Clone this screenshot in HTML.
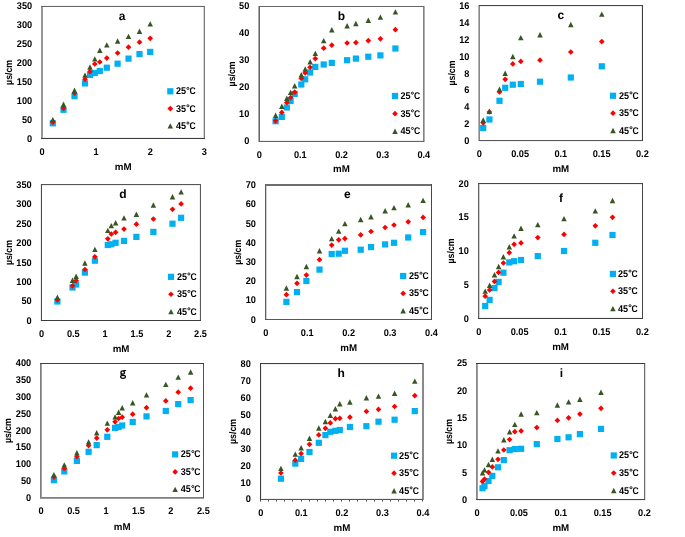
<!DOCTYPE html>
<html><head><meta charset="utf-8"><style>
html,body{margin:0;padding:0;background:#fff;}
svg{display:block;}
text{font-family:"Liberation Sans", sans-serif;font-weight:bold;font-size:9.8px;fill:#000000;text-rendering:geometricPrecision;}
</style></head><body>
<svg width="685" height="537" viewBox="0 0 685 537" style="will-change:transform">
<rect width="685" height="537" fill="#fff"/>
<g id="chart-a"><g shape-rendering="crispEdges"><rect x="41" y="5" width="164" height="1" fill="#f5f5f5"/><rect x="41" y="137" width="164" height="1" fill="#f0f0f0"/><rect x="203" y="6" width="1" height="133" fill="#d5d5d5"/><rect x="41" y="6" width="1" height="133" fill="#959595"/><rect x="42" y="6" width="1" height="133" fill="#959595"/><rect x="204" y="6" width="1" height="133" fill="#7a7a7a"/><rect x="41" y="6" width="164" height="1" fill="#666666"/><rect x="41" y="138" width="164" height="1" fill="#3d3d3d"/></g><text x="32.2" y="141.75" text-anchor="end" textLength="5.12" lengthAdjust="spacingAndGlyphs">0</text><text x="32.2" y="122.8" text-anchor="end" textLength="10.24" lengthAdjust="spacingAndGlyphs">50</text><text x="32.2" y="103.85" text-anchor="end" textLength="15.36" lengthAdjust="spacingAndGlyphs">100</text><text x="32.2" y="84.9" text-anchor="end" textLength="15.36" lengthAdjust="spacingAndGlyphs">150</text><text x="32.2" y="65.95" text-anchor="end" textLength="15.36" lengthAdjust="spacingAndGlyphs">200</text><text x="32.2" y="47" text-anchor="end" textLength="15.36" lengthAdjust="spacingAndGlyphs">250</text><text x="32.2" y="28.05" text-anchor="end" textLength="15.36" lengthAdjust="spacingAndGlyphs">300</text><text x="32.2" y="9.1" text-anchor="end" textLength="15.36" lengthAdjust="spacingAndGlyphs">350</text><text x="42.1" y="155.35" text-anchor="middle" textLength="5.12" lengthAdjust="spacingAndGlyphs">0</text><text x="96.18" y="155.35" text-anchor="middle" textLength="5.12" lengthAdjust="spacingAndGlyphs">1</text><text x="150.27" y="155.35" text-anchor="middle" textLength="5.12" lengthAdjust="spacingAndGlyphs">2</text><text x="204.35" y="155.35" text-anchor="middle" textLength="5.12" lengthAdjust="spacingAndGlyphs">3</text><text x="123.22" y="170.1" text-anchor="middle" textLength="16.8" lengthAdjust="spacingAndGlyphs">mM</text><text transform="translate(12.3 72.38) rotate(-90)" x="0" y="0" text-anchor="middle" textLength="25" lengthAdjust="spacingAndGlyphs">µs/cm</text><text x="122" y="19.7" text-anchor="middle" style="font-size:12px">a</text><rect x="49.7" y="120.2" width="6.2" height="6.2" fill="#00B0F0"/><rect x="60.4" y="106.7" width="6.2" height="6.2" fill="#00B0F0"/><rect x="71.4" y="93.1" width="6.2" height="6.2" fill="#00B0F0"/><rect x="81.9" y="80.3" width="6.2" height="6.2" fill="#00B0F0"/><rect x="86.9" y="71.8" width="6.2" height="6.2" fill="#00B0F0"/><rect x="91.7" y="69.9" width="6.2" height="6.2" fill="#00B0F0"/><rect x="96.7" y="67.9" width="6.2" height="6.2" fill="#00B0F0"/><rect x="103.7" y="64.6" width="6.2" height="6.2" fill="#00B0F0"/><rect x="114.5" y="60.6" width="6.2" height="6.2" fill="#00B0F0"/><rect x="125.4" y="55.5" width="6.2" height="6.2" fill="#00B0F0"/><rect x="136.4" y="51" width="6.2" height="6.2" fill="#00B0F0"/><rect x="147.1" y="48.8" width="6.2" height="6.2" fill="#00B0F0"/><path d="M52.8 119.35L55.65 122.2L52.8 125.05L49.95 122.2Z" fill="#FF0000"/><path d="M63.5 105.45L66.35 108.3L63.5 111.15L60.65 108.3Z" fill="#FF0000"/><path d="M74.5 90.35L77.35 93.2L74.5 96.05L71.65 93.2Z" fill="#FF0000"/><path d="M85 76.45L87.85 79.3L85 82.15L82.15 79.3Z" fill="#FF0000"/><path d="M90 68.75L92.85 71.6L90 74.45L87.15 71.6Z" fill="#FF0000"/><path d="M94.8 61.15L97.65 64L94.8 66.85L91.95 64Z" fill="#FF0000"/><path d="M99.8 59.15L102.65 62L99.8 64.85L96.95 62Z" fill="#FF0000"/><path d="M106.8 55.25L109.65 58.1L106.8 60.95L103.95 58.1Z" fill="#FF0000"/><path d="M117.6 50.15L120.45 53L117.6 55.85L114.75 53Z" fill="#FF0000"/><path d="M128.5 44.35L131.35 47.2L128.5 50.05L125.65 47.2Z" fill="#FF0000"/><path d="M139.5 39.35L142.35 42.2L139.5 45.05L136.65 42.2Z" fill="#FF0000"/><path d="M150.2 35.45L153.05 38.3L150.2 41.15L147.35 38.3Z" fill="#FF0000"/><path d="M52.8 116.9L55.55 122.3L50.05 122.3Z" fill="#375623"/><path d="M63.5 101.6L66.25 107L60.75 107Z" fill="#375623"/><path d="M74.5 87.6L77.25 93L71.75 93Z" fill="#375623"/><path d="M85 72.4L87.75 77.8L82.25 77.8Z" fill="#375623"/><path d="M90 64.3L92.75 69.7L87.25 69.7Z" fill="#375623"/><path d="M94.8 56.2L97.55 61.6L92.05 61.6Z" fill="#375623"/><path d="M99.8 47.5L102.55 52.9L97.05 52.9Z" fill="#375623"/><path d="M106.8 42.2L109.55 47.6L104.05 47.6Z" fill="#375623"/><path d="M117.6 38.3L120.35 43.7L114.85 43.7Z" fill="#375623"/><path d="M128.5 33.7L131.25 39.1L125.75 39.1Z" fill="#375623"/><path d="M139.5 28.5L142.25 33.9L136.75 33.9Z" fill="#375623"/><path d="M150.2 21.15L152.95 26.55L147.45 26.55Z" fill="#375623"/><rect x="167.2" y="88.2" width="6.2" height="6.2" fill="#00B0F0"/><path d="M170.3 105.75L173.15 108.6L170.3 111.45L167.45 108.6Z" fill="#FF0000"/><path d="M170.3 123.2L173.05 128.6L167.55 128.6Z" fill="#375623"/><text x="175.9" y="94.3" textLength="10.1" lengthAdjust="spacingAndGlyphs">25</text><circle cx="187.9" cy="88.45" r="1.05" fill="none" stroke="#000000" stroke-width="0.85"/><text x="189.45" y="94.3" textLength="6.2" lengthAdjust="spacingAndGlyphs">C</text><text x="175.9" y="111.6" textLength="10.1" lengthAdjust="spacingAndGlyphs">35</text><circle cx="187.9" cy="105.75" r="1.05" fill="none" stroke="#000000" stroke-width="0.85"/><text x="189.45" y="111.6" textLength="6.2" lengthAdjust="spacingAndGlyphs">C</text><text x="175.9" y="128.9" textLength="10.1" lengthAdjust="spacingAndGlyphs">45</text><circle cx="187.9" cy="123.05" r="1.05" fill="none" stroke="#000000" stroke-width="0.85"/><text x="189.45" y="128.9" textLength="6.2" lengthAdjust="spacingAndGlyphs">C</text></g><g id="chart-b"><g shape-rendering="crispEdges"><rect x="259" y="140" width="165" height="1" fill="#eeeeee"/><rect x="424" y="6" width="1" height="136" fill="#b0b0b0"/><rect x="258" y="6" width="1" height="136" fill="#aaaaaa"/><rect x="423" y="6" width="1" height="136" fill="#828282"/><rect x="259" y="6" width="1" height="136" fill="#666666"/><rect x="259" y="6" width="165" height="1" fill="#666666"/><rect x="259" y="141" width="165" height="1" fill="#646464"/></g><text x="249.3" y="144.1" text-anchor="end" textLength="5.12" lengthAdjust="spacingAndGlyphs">0</text><text x="249.3" y="117.16" text-anchor="end" textLength="10.24" lengthAdjust="spacingAndGlyphs">10</text><text x="249.3" y="90.22" text-anchor="end" textLength="10.24" lengthAdjust="spacingAndGlyphs">20</text><text x="249.3" y="63.28" text-anchor="end" textLength="10.24" lengthAdjust="spacingAndGlyphs">30</text><text x="249.3" y="36.34" text-anchor="end" textLength="10.24" lengthAdjust="spacingAndGlyphs">40</text><text x="249.3" y="9.4" text-anchor="end" textLength="10.24" lengthAdjust="spacingAndGlyphs">50</text><text x="259.2" y="158.1" text-anchor="middle" textLength="5.12" lengthAdjust="spacingAndGlyphs">0</text><text x="300.36" y="158.1" text-anchor="middle" textLength="12.79" lengthAdjust="spacingAndGlyphs">0.1</text><text x="341.52" y="158.1" text-anchor="middle" textLength="12.79" lengthAdjust="spacingAndGlyphs">0.2</text><text x="382.69" y="158.1" text-anchor="middle" textLength="12.79" lengthAdjust="spacingAndGlyphs">0.3</text><text x="423.85" y="158.1" text-anchor="middle" textLength="12.79" lengthAdjust="spacingAndGlyphs">0.4</text><text x="341.52" y="171.9" text-anchor="middle" textLength="16.8" lengthAdjust="spacingAndGlyphs">mM</text><text transform="translate(234.5 73.88) rotate(-90)" x="0" y="0" text-anchor="middle" textLength="25" lengthAdjust="spacingAndGlyphs">µs/cm</text><text x="341.5" y="19.6" text-anchor="middle" style="font-size:12px">b</text><rect x="272.5" y="118.1" width="6.2" height="6.2" fill="#00B0F0"/><rect x="278.7" y="113.8" width="6.2" height="6.2" fill="#00B0F0"/><rect x="283.7" y="104.4" width="6.2" height="6.2" fill="#00B0F0"/><rect x="287.5" y="97.9" width="6.2" height="6.2" fill="#00B0F0"/><rect x="291.6" y="90.8" width="6.2" height="6.2" fill="#00B0F0"/><rect x="298.2" y="81.4" width="6.2" height="6.2" fill="#00B0F0"/><rect x="302.1" y="76.2" width="6.2" height="6.2" fill="#00B0F0"/><rect x="307" y="69.4" width="6.2" height="6.2" fill="#00B0F0"/><rect x="312.2" y="63.8" width="6.2" height="6.2" fill="#00B0F0"/><rect x="320.6" y="61.4" width="6.2" height="6.2" fill="#00B0F0"/><rect x="328.7" y="59.8" width="6.2" height="6.2" fill="#00B0F0"/><rect x="344" y="57.1" width="6.2" height="6.2" fill="#00B0F0"/><rect x="352.8" y="55.5" width="6.2" height="6.2" fill="#00B0F0"/><rect x="365.2" y="53.6" width="6.2" height="6.2" fill="#00B0F0"/><rect x="377.3" y="52.3" width="6.2" height="6.2" fill="#00B0F0"/><rect x="392.3" y="45.4" width="6.2" height="6.2" fill="#00B0F0"/><path d="M275.6 117.95L278.45 120.8L275.6 123.65L272.75 120.8Z" fill="#FF0000"/><path d="M281.8 109.55L284.65 112.4L281.8 115.25L278.95 112.4Z" fill="#FF0000"/><path d="M286.8 99.75L289.65 102.6L286.8 105.45L283.95 102.6Z" fill="#FF0000"/><path d="M290.6 94.75L293.45 97.6L290.6 100.45L287.75 97.6Z" fill="#FF0000"/><path d="M294.7 89.35L297.55 92.2L294.7 95.05L291.85 92.2Z" fill="#FF0000"/><path d="M301.3 75.65L304.15 78.5L301.3 81.35L298.45 78.5Z" fill="#FF0000"/><path d="M305.2 70.05L308.05 72.9L305.2 75.75L302.35 72.9Z" fill="#FF0000"/><path d="M310.1 64.45L312.95 67.3L310.1 70.15L307.25 67.3Z" fill="#FF0000"/><path d="M315.3 55.75L318.15 58.6L315.3 61.45L312.45 58.6Z" fill="#FF0000"/><path d="M323.7 45.35L326.55 48.2L323.7 51.05L320.85 48.2Z" fill="#FF0000"/><path d="M331.8 42.35L334.65 45.2L331.8 48.05L328.95 45.2Z" fill="#FF0000"/><path d="M347.1 40.15L349.95 43L347.1 45.85L344.25 43Z" fill="#FF0000"/><path d="M355.9 39.75L358.75 42.6L355.9 45.45L353.05 42.6Z" fill="#FF0000"/><path d="M368.3 37.85L371.15 40.7L368.3 43.55L365.45 40.7Z" fill="#FF0000"/><path d="M380.4 35.95L383.25 38.8L380.4 41.65L377.55 38.8Z" fill="#FF0000"/><path d="M395.4 26.85L398.25 29.7L395.4 32.55L392.55 29.7Z" fill="#FF0000"/><path d="M275.6 112.5L278.35 117.9L272.85 117.9Z" fill="#375623"/><path d="M281.8 103.5L284.55 108.9L279.05 108.9Z" fill="#375623"/><path d="M286.8 95.6L289.55 101L284.05 101Z" fill="#375623"/><path d="M290.6 89.7L293.35 95.1L287.85 95.1Z" fill="#375623"/><path d="M294.7 83L297.45 88.4L291.95 88.4Z" fill="#375623"/><path d="M301.3 72L304.05 77.4L298.55 77.4Z" fill="#375623"/><path d="M305.2 66.3L307.95 71.7L302.45 71.7Z" fill="#375623"/><path d="M310.1 59L312.85 64.4L307.35 64.4Z" fill="#375623"/><path d="M315.3 50.7L318.05 56.1L312.55 56.1Z" fill="#375623"/><path d="M323.7 37.9L326.45 43.3L320.95 43.3Z" fill="#375623"/><path d="M331.8 27L334.55 32.4L329.05 32.4Z" fill="#375623"/><path d="M347.1 23.1L349.85 28.5L344.35 28.5Z" fill="#375623"/><path d="M355.9 20.8L358.65 26.2L353.15 26.2Z" fill="#375623"/><path d="M368.3 17.5L371.05 22.9L365.55 22.9Z" fill="#375623"/><path d="M380.4 14.4L383.15 19.8L377.65 19.8Z" fill="#375623"/><path d="M395.4 9.2L398.15 14.6L392.65 14.6Z" fill="#375623"/><rect x="391.9" y="92.9" width="6.2" height="6.2" fill="#00B0F0"/><path d="M395 110.8L397.85 113.65L395 116.5L392.15 113.65Z" fill="#FF0000"/><path d="M395 128.6L397.75 134L392.25 134Z" fill="#375623"/><text x="400.4" y="99" textLength="10.1" lengthAdjust="spacingAndGlyphs">25</text><circle cx="412.4" cy="93.15" r="1.05" fill="none" stroke="#000000" stroke-width="0.85"/><text x="413.95" y="99" textLength="6.2" lengthAdjust="spacingAndGlyphs">C</text><text x="400.4" y="116.65" textLength="10.1" lengthAdjust="spacingAndGlyphs">35</text><circle cx="412.4" cy="110.8" r="1.05" fill="none" stroke="#000000" stroke-width="0.85"/><text x="413.95" y="116.65" textLength="6.2" lengthAdjust="spacingAndGlyphs">C</text><text x="400.4" y="134.3" textLength="10.1" lengthAdjust="spacingAndGlyphs">45</text><circle cx="412.4" cy="128.45" r="1.05" fill="none" stroke="#000000" stroke-width="0.85"/><text x="413.95" y="134.3" textLength="6.2" lengthAdjust="spacingAndGlyphs">C</text></g><g id="chart-c"><g shape-rendering="crispEdges"><rect x="479" y="141" width="164" height="1" fill="#f2f2f2"/><rect x="641" y="5" width="1" height="136" fill="#f0f0f0"/><rect x="479" y="6" width="164" height="1" fill="#eeeeee"/><rect x="478" y="5" width="1" height="136" fill="#b5b5b5"/><rect x="479" y="5" width="1" height="136" fill="#888888"/><rect x="479" y="140" width="164" height="1" fill="#555555"/><rect x="479" y="5" width="164" height="1" fill="#444444"/><rect x="642" y="5" width="1" height="136" fill="#3a3a3a"/></g><text x="469.4" y="144.1" text-anchor="end" textLength="5.12" lengthAdjust="spacingAndGlyphs">0</text><text x="469.4" y="127.23" text-anchor="end" textLength="5.12" lengthAdjust="spacingAndGlyphs">2</text><text x="469.4" y="110.35" text-anchor="end" textLength="5.12" lengthAdjust="spacingAndGlyphs">4</text><text x="469.4" y="93.48" text-anchor="end" textLength="5.12" lengthAdjust="spacingAndGlyphs">6</text><text x="469.4" y="76.6" text-anchor="end" textLength="5.12" lengthAdjust="spacingAndGlyphs">8</text><text x="469.4" y="59.73" text-anchor="end" textLength="10.24" lengthAdjust="spacingAndGlyphs">10</text><text x="469.4" y="42.85" text-anchor="end" textLength="10.24" lengthAdjust="spacingAndGlyphs">12</text><text x="469.4" y="25.97" text-anchor="end" textLength="10.24" lengthAdjust="spacingAndGlyphs">14</text><text x="469.4" y="9.1" text-anchor="end" textLength="10.24" lengthAdjust="spacingAndGlyphs">16</text><text x="479.3" y="156.5" text-anchor="middle" textLength="5.12" lengthAdjust="spacingAndGlyphs">0</text><text x="520.08" y="156.5" text-anchor="middle" textLength="17.91" lengthAdjust="spacingAndGlyphs">0.05</text><text x="560.85" y="156.5" text-anchor="middle" textLength="12.79" lengthAdjust="spacingAndGlyphs">0.1</text><text x="601.62" y="156.5" text-anchor="middle" textLength="17.91" lengthAdjust="spacingAndGlyphs">0.15</text><text x="642.4" y="156.5" text-anchor="middle" textLength="12.79" lengthAdjust="spacingAndGlyphs">0.2</text><text x="560.85" y="171.5" text-anchor="middle" textLength="16.8" lengthAdjust="spacingAndGlyphs">mM</text><text transform="translate(454.6 72.98) rotate(-90)" x="0" y="0" text-anchor="middle" textLength="25" lengthAdjust="spacingAndGlyphs">µs/cm</text><text x="560.9" y="19.2" text-anchor="middle" style="font-size:12px">c</text><rect x="480.1" y="124.8" width="6.2" height="6.2" fill="#00B0F0"/><rect x="486.3" y="116.4" width="6.2" height="6.2" fill="#00B0F0"/><rect x="496.4" y="97.7" width="6.2" height="6.2" fill="#00B0F0"/><rect x="502.1" y="84.7" width="6.2" height="6.2" fill="#00B0F0"/><rect x="509.7" y="81.6" width="6.2" height="6.2" fill="#00B0F0"/><rect x="517.7" y="80.9" width="6.2" height="6.2" fill="#00B0F0"/><rect x="536.9" y="78.6" width="6.2" height="6.2" fill="#00B0F0"/><rect x="567.7" y="74.4" width="6.2" height="6.2" fill="#00B0F0"/><rect x="598.7" y="63.2" width="6.2" height="6.2" fill="#00B0F0"/><path d="M483.2 119.95L486.05 122.8L483.2 125.65L480.35 122.8Z" fill="#FF0000"/><path d="M489.4 109.15L492.25 112L489.4 114.85L486.55 112Z" fill="#FF0000"/><path d="M499.5 89.15L502.35 92L499.5 94.85L496.65 92Z" fill="#FF0000"/><path d="M505.2 76.45L508.05 79.3L505.2 82.15L502.35 79.3Z" fill="#FF0000"/><path d="M512.8 61.05L515.65 63.9L512.8 66.75L509.95 63.9Z" fill="#FF0000"/><path d="M520.8 58.55L523.65 61.4L520.8 64.25L517.95 61.4Z" fill="#FF0000"/><path d="M540 57.35L542.85 60.2L540 63.05L537.15 60.2Z" fill="#FF0000"/><path d="M570.8 49.15L573.65 52L570.8 54.85L567.95 52Z" fill="#FF0000"/><path d="M601.8 38.75L604.65 41.6L601.8 44.45L598.95 41.6Z" fill="#FF0000"/><path d="M483.2 117.3L485.95 122.7L480.45 122.7Z" fill="#375623"/><path d="M489.4 108.6L492.15 114L486.65 114Z" fill="#375623"/><path d="M499.5 86.6L502.25 92L496.75 92Z" fill="#375623"/><path d="M505.2 70.6L507.95 76L502.45 76Z" fill="#375623"/><path d="M512.8 53.8L515.55 59.2L510.05 59.2Z" fill="#375623"/><path d="M520.8 34.9L523.55 40.3L518.05 40.3Z" fill="#375623"/><path d="M540 32.1L542.75 37.5L537.25 37.5Z" fill="#375623"/><path d="M570.8 21.8L573.55 27.2L568.05 27.2Z" fill="#375623"/><path d="M601.8 11.4L604.55 16.8L599.05 16.8Z" fill="#375623"/><rect x="609.9" y="92.65" width="6.2" height="6.2" fill="#00B0F0"/><path d="M613 110.3L615.85 113.15L613 116L610.15 113.15Z" fill="#FF0000"/><path d="M613 127.85L615.75 133.25L610.25 133.25Z" fill="#375623"/><text x="619" y="98.75" textLength="10.1" lengthAdjust="spacingAndGlyphs">25</text><circle cx="631" cy="92.9" r="1.05" fill="none" stroke="#000000" stroke-width="0.85"/><text x="632.55" y="98.75" textLength="6.2" lengthAdjust="spacingAndGlyphs">C</text><text x="619" y="116.15" textLength="10.1" lengthAdjust="spacingAndGlyphs">35</text><circle cx="631" cy="110.3" r="1.05" fill="none" stroke="#000000" stroke-width="0.85"/><text x="632.55" y="116.15" textLength="6.2" lengthAdjust="spacingAndGlyphs">C</text><text x="619" y="133.55" textLength="10.1" lengthAdjust="spacingAndGlyphs">45</text><circle cx="631" cy="127.7" r="1.05" fill="none" stroke="#000000" stroke-width="0.85"/><text x="632.55" y="133.55" textLength="6.2" lengthAdjust="spacingAndGlyphs">C</text></g><g id="chart-d"><g shape-rendering="crispEdges"><rect x="40" y="184" width="1" height="137" fill="#eeeeee"/><rect x="199" y="184" width="1" height="137" fill="#eeeeee"/><rect x="41" y="185" width="160" height="1" fill="#eeeeee"/><rect x="200" y="184" width="1" height="137" fill="#5a5a5a"/><rect x="41" y="184" width="160" height="1" fill="#555555"/><rect x="41" y="184" width="1" height="137" fill="#4a4a4a"/><rect x="41" y="320" width="160" height="1" fill="#3a3a3a"/></g><text x="31.65" y="323.7" text-anchor="end" textLength="5.12" lengthAdjust="spacingAndGlyphs">0</text><text x="31.65" y="304.31" text-anchor="end" textLength="10.24" lengthAdjust="spacingAndGlyphs">50</text><text x="31.65" y="284.93" text-anchor="end" textLength="15.36" lengthAdjust="spacingAndGlyphs">100</text><text x="31.65" y="265.54" text-anchor="end" textLength="15.36" lengthAdjust="spacingAndGlyphs">150</text><text x="31.65" y="246.16" text-anchor="end" textLength="15.36" lengthAdjust="spacingAndGlyphs">200</text><text x="31.65" y="226.77" text-anchor="end" textLength="15.36" lengthAdjust="spacingAndGlyphs">250</text><text x="31.65" y="207.39" text-anchor="end" textLength="15.36" lengthAdjust="spacingAndGlyphs">300</text><text x="31.65" y="188" text-anchor="end" textLength="15.36" lengthAdjust="spacingAndGlyphs">350</text><text x="41.55" y="336.5" text-anchor="middle" textLength="5.12" lengthAdjust="spacingAndGlyphs">0</text><text x="73.34" y="336.5" text-anchor="middle" textLength="12.79" lengthAdjust="spacingAndGlyphs">0.5</text><text x="105.13" y="336.5" text-anchor="middle" textLength="5.12" lengthAdjust="spacingAndGlyphs">1</text><text x="136.92" y="336.5" text-anchor="middle" textLength="12.79" lengthAdjust="spacingAndGlyphs">1.5</text><text x="168.71" y="336.5" text-anchor="middle" textLength="5.12" lengthAdjust="spacingAndGlyphs">2</text><text x="200.5" y="336.5" text-anchor="middle" textLength="12.79" lengthAdjust="spacingAndGlyphs">2.5</text><text x="121.03" y="351.7" text-anchor="middle" textLength="16.8" lengthAdjust="spacingAndGlyphs">mM</text><text transform="translate(11.75 252.55) rotate(-90)" x="0" y="0" text-anchor="middle" textLength="25" lengthAdjust="spacingAndGlyphs">µs/cm</text><text x="122.8" y="197.6" text-anchor="middle" style="font-size:12px">d</text><rect x="54.3" y="298.4" width="6.2" height="6.2" fill="#00B0F0"/><rect x="69.4" y="284.4" width="6.2" height="6.2" fill="#00B0F0"/><rect x="73" y="281.4" width="6.2" height="6.2" fill="#00B0F0"/><rect x="81.8" y="269.5" width="6.2" height="6.2" fill="#00B0F0"/><rect x="91.8" y="257.6" width="6.2" height="6.2" fill="#00B0F0"/><rect x="104.7" y="241.9" width="6.2" height="6.2" fill="#00B0F0"/><rect x="108.2" y="241.2" width="6.2" height="6.2" fill="#00B0F0"/><rect x="112.5" y="239.7" width="6.2" height="6.2" fill="#00B0F0"/><rect x="120.9" y="237.8" width="6.2" height="6.2" fill="#00B0F0"/><rect x="133.3" y="233.8" width="6.2" height="6.2" fill="#00B0F0"/><rect x="150.3" y="228.8" width="6.2" height="6.2" fill="#00B0F0"/><rect x="169.4" y="220.6" width="6.2" height="6.2" fill="#00B0F0"/><rect x="178" y="214.7" width="6.2" height="6.2" fill="#00B0F0"/><path d="M57.4 297.15L60.25 300L57.4 302.85L54.55 300Z" fill="#FF0000"/><path d="M72.5 282.95L75.35 285.8L72.5 288.65L69.65 285.8Z" fill="#FF0000"/><path d="M76.1 277.75L78.95 280.6L76.1 283.45L73.25 280.6Z" fill="#FF0000"/><path d="M84.9 266.65L87.75 269.5L84.9 272.35L82.05 269.5Z" fill="#FF0000"/><path d="M94.9 253.95L97.75 256.8L94.9 259.65L92.05 256.8Z" fill="#FF0000"/><path d="M107.8 235.95L110.65 238.8L107.8 241.65L104.95 238.8Z" fill="#FF0000"/><path d="M111.3 231.15L114.15 234L111.3 236.85L108.45 234Z" fill="#FF0000"/><path d="M115.6 229.45L118.45 232.3L115.6 235.15L112.75 232.3Z" fill="#FF0000"/><path d="M124 226.25L126.85 229.1L124 231.95L121.15 229.1Z" fill="#FF0000"/><path d="M136.4 221.35L139.25 224.2L136.4 227.05L133.55 224.2Z" fill="#FF0000"/><path d="M153.4 216.15L156.25 219L153.4 221.85L150.55 219Z" fill="#FF0000"/><path d="M172.5 206.45L175.35 209.3L172.5 212.15L169.65 209.3Z" fill="#FF0000"/><path d="M181.1 201.05L183.95 203.9L181.1 206.75L178.25 203.9Z" fill="#FF0000"/><path d="M57.4 294.6L60.15 300L54.65 300Z" fill="#375623"/><path d="M72.5 277.5L75.25 282.9L69.75 282.9Z" fill="#375623"/><path d="M76.1 273.5L78.85 278.9L73.35 278.9Z" fill="#375623"/><path d="M84.9 260.3L87.65 265.7L82.15 265.7Z" fill="#375623"/><path d="M94.9 246.7L97.65 252.1L92.15 252.1Z" fill="#375623"/><path d="M107.8 227.7L110.55 233.1L105.05 233.1Z" fill="#375623"/><path d="M111.3 222.9L114.05 228.3L108.55 228.3Z" fill="#375623"/><path d="M115.6 220.1L118.35 225.5L112.85 225.5Z" fill="#375623"/><path d="M124 215.2L126.75 220.6L121.25 220.6Z" fill="#375623"/><path d="M136.4 211.5L139.15 216.9L133.65 216.9Z" fill="#375623"/><path d="M153.4 202.3L156.15 207.7L150.65 207.7Z" fill="#375623"/><path d="M172.5 194.1L175.25 199.5L169.75 199.5Z" fill="#375623"/><path d="M181.1 189.2L183.85 194.6L178.35 194.6Z" fill="#375623"/><rect x="167.9" y="273.75" width="6.2" height="6.2" fill="#00B0F0"/><path d="M171 291.4L173.85 294.25L171 297.1L168.15 294.25Z" fill="#FF0000"/><path d="M171 308.95L173.75 314.35L168.25 314.35Z" fill="#375623"/><text x="176.9" y="279.85" textLength="10.1" lengthAdjust="spacingAndGlyphs">25</text><circle cx="188.9" cy="274" r="1.05" fill="none" stroke="#000000" stroke-width="0.85"/><text x="190.45" y="279.85" textLength="6.2" lengthAdjust="spacingAndGlyphs">C</text><text x="176.9" y="297.25" textLength="10.1" lengthAdjust="spacingAndGlyphs">35</text><circle cx="188.9" cy="291.4" r="1.05" fill="none" stroke="#000000" stroke-width="0.85"/><text x="190.45" y="297.25" textLength="6.2" lengthAdjust="spacingAndGlyphs">C</text><text x="176.9" y="314.65" textLength="10.1" lengthAdjust="spacingAndGlyphs">45</text><circle cx="188.9" cy="308.8" r="1.05" fill="none" stroke="#000000" stroke-width="0.85"/><text x="190.45" y="314.65" textLength="6.2" lengthAdjust="spacingAndGlyphs">C</text></g><g id="chart-e"><g shape-rendering="crispEdges"><rect x="266" y="184" width="1" height="136" fill="#cfcfcf"/><rect x="265" y="184" width="167" height="1" fill="#6e6e6e"/><rect x="265" y="185" width="167" height="1" fill="#6e6e6e"/><rect x="265" y="184" width="1" height="136" fill="#606060"/><rect x="265" y="319" width="167" height="1" fill="#575757"/><rect x="431" y="184" width="1" height="136" fill="#474747"/></g><text x="255.9" y="322.6" text-anchor="end" textLength="5.12" lengthAdjust="spacingAndGlyphs">0</text><text x="255.9" y="303.4" text-anchor="end" textLength="10.24" lengthAdjust="spacingAndGlyphs">10</text><text x="255.9" y="284.2" text-anchor="end" textLength="10.24" lengthAdjust="spacingAndGlyphs">20</text><text x="255.9" y="265" text-anchor="end" textLength="10.24" lengthAdjust="spacingAndGlyphs">30</text><text x="255.9" y="245.8" text-anchor="end" textLength="10.24" lengthAdjust="spacingAndGlyphs">40</text><text x="255.9" y="226.6" text-anchor="end" textLength="10.24" lengthAdjust="spacingAndGlyphs">50</text><text x="255.9" y="207.4" text-anchor="end" textLength="10.24" lengthAdjust="spacingAndGlyphs">60</text><text x="255.9" y="188.2" text-anchor="end" textLength="10.24" lengthAdjust="spacingAndGlyphs">70</text><text x="265.8" y="336.45" text-anchor="middle" textLength="5.12" lengthAdjust="spacingAndGlyphs">0</text><text x="307.23" y="336.45" text-anchor="middle" textLength="12.79" lengthAdjust="spacingAndGlyphs">0.1</text><text x="348.65" y="336.45" text-anchor="middle" textLength="12.79" lengthAdjust="spacingAndGlyphs">0.2</text><text x="390.07" y="336.45" text-anchor="middle" textLength="12.79" lengthAdjust="spacingAndGlyphs">0.3</text><text x="431.5" y="336.45" text-anchor="middle" textLength="12.79" lengthAdjust="spacingAndGlyphs">0.4</text><text x="348.65" y="350.5" text-anchor="middle" textLength="16.8" lengthAdjust="spacingAndGlyphs">mM</text><text transform="translate(241.1 252.23) rotate(-90)" x="0" y="0" text-anchor="middle" textLength="25" lengthAdjust="spacingAndGlyphs">µs/cm</text><text x="347.3" y="198.4" text-anchor="middle" style="font-size:12px">e</text><rect x="283.3" y="298.8" width="6.2" height="6.2" fill="#00B0F0"/><rect x="293.9" y="289" width="6.2" height="6.2" fill="#00B0F0"/><rect x="303.3" y="277.9" width="6.2" height="6.2" fill="#00B0F0"/><rect x="316.4" y="266.5" width="6.2" height="6.2" fill="#00B0F0"/><rect x="328.6" y="250.9" width="6.2" height="6.2" fill="#00B0F0"/><rect x="335.6" y="250.6" width="6.2" height="6.2" fill="#00B0F0"/><rect x="341.8" y="247.7" width="6.2" height="6.2" fill="#00B0F0"/><rect x="357.6" y="246.6" width="6.2" height="6.2" fill="#00B0F0"/><rect x="367.9" y="244" width="6.2" height="6.2" fill="#00B0F0"/><rect x="382" y="241.3" width="6.2" height="6.2" fill="#00B0F0"/><rect x="390.9" y="239.7" width="6.2" height="6.2" fill="#00B0F0"/><rect x="405.1" y="234.4" width="6.2" height="6.2" fill="#00B0F0"/><rect x="420" y="229" width="6.2" height="6.2" fill="#00B0F0"/><path d="M286.4 291.85L289.25 294.7L286.4 297.55L283.55 294.7Z" fill="#FF0000"/><path d="M297 280.45L299.85 283.3L297 286.15L294.15 283.3Z" fill="#FF0000"/><path d="M306.4 272.25L309.25 275.1L306.4 277.95L303.55 275.1Z" fill="#FF0000"/><path d="M319.5 256.85L322.35 259.7L319.5 262.55L316.65 259.7Z" fill="#FF0000"/><path d="M331.7 242.25L334.55 245.1L331.7 247.95L328.85 245.1Z" fill="#FF0000"/><path d="M338.7 236.95L341.55 239.8L338.7 242.65L335.85 239.8Z" fill="#FF0000"/><path d="M344.9 235.75L347.75 238.6L344.9 241.45L342.05 238.6Z" fill="#FF0000"/><path d="M360.7 232.05L363.55 234.9L360.7 237.75L357.85 234.9Z" fill="#FF0000"/><path d="M371 228.65L373.85 231.5L371 234.35L368.15 231.5Z" fill="#FF0000"/><path d="M385.1 224.65L387.95 227.5L385.1 230.35L382.25 227.5Z" fill="#FF0000"/><path d="M394 222.15L396.85 225L394 227.85L391.15 225Z" fill="#FF0000"/><path d="M408.2 218.95L411.05 221.8L408.2 224.65L405.35 221.8Z" fill="#FF0000"/><path d="M423.1 214.55L425.95 217.4L423.1 220.25L420.25 217.4Z" fill="#FF0000"/><path d="M286.4 285.3L289.15 290.7L283.65 290.7Z" fill="#375623"/><path d="M297 273.8L299.75 279.2L294.25 279.2Z" fill="#375623"/><path d="M306.4 263.8L309.15 269.2L303.65 269.2Z" fill="#375623"/><path d="M319.5 248L322.25 253.4L316.75 253.4Z" fill="#375623"/><path d="M331.7 235.9L334.45 241.3L328.95 241.3Z" fill="#375623"/><path d="M338.7 228.4L341.45 233.8L335.95 233.8Z" fill="#375623"/><path d="M344.9 220.9L347.65 226.3L342.15 226.3Z" fill="#375623"/><path d="M360.7 216.8L363.45 222.2L357.95 222.2Z" fill="#375623"/><path d="M371 214.1L373.75 219.5L368.25 219.5Z" fill="#375623"/><path d="M385.1 208.1L387.85 213.5L382.35 213.5Z" fill="#375623"/><path d="M394 204.9L396.75 210.3L391.25 210.3Z" fill="#375623"/><path d="M408.2 202L410.95 207.4L405.45 207.4Z" fill="#375623"/><path d="M423.1 197.7L425.85 203.1L420.35 203.1Z" fill="#375623"/><rect x="400.05" y="272.9" width="6.2" height="6.2" fill="#00B0F0"/><path d="M403.15 290.55L406 293.4L403.15 296.25L400.3 293.4Z" fill="#FF0000"/><path d="M403.15 308.1L405.9 313.5L400.4 313.5Z" fill="#375623"/><text x="409" y="279" textLength="10.1" lengthAdjust="spacingAndGlyphs">25</text><circle cx="421" cy="273.15" r="1.05" fill="none" stroke="#000000" stroke-width="0.85"/><text x="422.55" y="279" textLength="6.2" lengthAdjust="spacingAndGlyphs">C</text><text x="409" y="296.4" textLength="10.1" lengthAdjust="spacingAndGlyphs">35</text><circle cx="421" cy="290.55" r="1.05" fill="none" stroke="#000000" stroke-width="0.85"/><text x="422.55" y="296.4" textLength="6.2" lengthAdjust="spacingAndGlyphs">C</text><text x="409" y="313.8" textLength="10.1" lengthAdjust="spacingAndGlyphs">45</text><circle cx="421" cy="307.95" r="1.05" fill="none" stroke="#000000" stroke-width="0.85"/><text x="422.55" y="313.8" textLength="6.2" lengthAdjust="spacingAndGlyphs">C</text></g><g id="chart-f"><g shape-rendering="crispEdges"><rect x="478" y="317" width="165" height="1" fill="#f0f0f0"/><rect x="478" y="184" width="165" height="1" fill="#eeeeee"/><rect x="479" y="183" width="1" height="136" fill="#d0d0d0"/><rect x="478" y="183" width="1" height="136" fill="#606060"/><rect x="478" y="183" width="165" height="1" fill="#474747"/><rect x="642" y="183" width="1" height="136" fill="#454545"/><rect x="478" y="318" width="165" height="1" fill="#404040"/></g><text x="468.85" y="321.8" text-anchor="end" textLength="5.12" lengthAdjust="spacingAndGlyphs">0</text><text x="468.85" y="287.97" text-anchor="end" textLength="5.12" lengthAdjust="spacingAndGlyphs">5</text><text x="468.85" y="254.15" text-anchor="end" textLength="10.24" lengthAdjust="spacingAndGlyphs">10</text><text x="468.85" y="220.32" text-anchor="end" textLength="10.24" lengthAdjust="spacingAndGlyphs">15</text><text x="468.85" y="186.5" text-anchor="end" textLength="10.24" lengthAdjust="spacingAndGlyphs">20</text><text x="478.75" y="334.5" text-anchor="middle" textLength="5.12" lengthAdjust="spacingAndGlyphs">0</text><text x="519.66" y="334.5" text-anchor="middle" textLength="17.91" lengthAdjust="spacingAndGlyphs">0.05</text><text x="560.58" y="334.5" text-anchor="middle" textLength="12.79" lengthAdjust="spacingAndGlyphs">0.1</text><text x="601.49" y="334.5" text-anchor="middle" textLength="17.91" lengthAdjust="spacingAndGlyphs">0.15</text><text x="642.4" y="334.5" text-anchor="middle" textLength="12.79" lengthAdjust="spacingAndGlyphs">0.2</text><text x="560.58" y="349.7" text-anchor="middle" textLength="16.8" lengthAdjust="spacingAndGlyphs">mM</text><text transform="translate(454.05 250.95) rotate(-90)" x="0" y="0" text-anchor="middle" textLength="25" lengthAdjust="spacingAndGlyphs">µs/cm</text><text x="561.1" y="201.6" text-anchor="middle" style="font-size:12px">f</text><rect x="482.1" y="302.9" width="6.2" height="6.2" fill="#00B0F0"/><rect x="486.5" y="296.8" width="6.2" height="6.2" fill="#00B0F0"/><rect x="491.4" y="285" width="6.2" height="6.2" fill="#00B0F0"/><rect x="495.5" y="278.8" width="6.2" height="6.2" fill="#00B0F0"/><rect x="500.3" y="269.6" width="6.2" height="6.2" fill="#00B0F0"/><rect x="506.2" y="259.3" width="6.2" height="6.2" fill="#00B0F0"/><rect x="511" y="258.1" width="6.2" height="6.2" fill="#00B0F0"/><rect x="517.9" y="256.9" width="6.2" height="6.2" fill="#00B0F0"/><rect x="534.7" y="253" width="6.2" height="6.2" fill="#00B0F0"/><rect x="560.9" y="247.9" width="6.2" height="6.2" fill="#00B0F0"/><rect x="592.2" y="239.7" width="6.2" height="6.2" fill="#00B0F0"/><rect x="609.4" y="231.9" width="6.2" height="6.2" fill="#00B0F0"/><path d="M485.2 293.35L488.05 296.2L485.2 299.05L482.35 296.2Z" fill="#FF0000"/><path d="M489.6 287.15L492.45 290L489.6 292.85L486.75 290Z" fill="#FF0000"/><path d="M494.5 278.55L497.35 281.4L494.5 284.25L491.65 281.4Z" fill="#FF0000"/><path d="M498.6 269.55L501.45 272.4L498.6 275.25L495.75 272.4Z" fill="#FF0000"/><path d="M503.4 260.15L506.25 263L503.4 265.85L500.55 263Z" fill="#FF0000"/><path d="M509.3 249.85L512.15 252.7L509.3 255.55L506.45 252.7Z" fill="#FF0000"/><path d="M514.1 241.45L516.95 244.3L514.1 247.15L511.25 244.3Z" fill="#FF0000"/><path d="M521 240.05L523.85 242.9L521 245.75L518.15 242.9Z" fill="#FF0000"/><path d="M537.8 234.75L540.65 237.6L537.8 240.45L534.95 237.6Z" fill="#FF0000"/><path d="M564 231.55L566.85 234.4L564 237.25L561.15 234.4Z" fill="#FF0000"/><path d="M595.3 222.95L598.15 225.8L595.3 228.65L592.45 225.8Z" fill="#FF0000"/><path d="M612.5 214.45L615.35 217.3L612.5 220.15L609.65 217.3Z" fill="#FF0000"/><path d="M485.2 288.4L487.95 293.8L482.45 293.8Z" fill="#375623"/><path d="M489.6 282.5L492.35 287.9L486.85 287.9Z" fill="#375623"/><path d="M494.5 272.1L497.25 277.5L491.75 277.5Z" fill="#375623"/><path d="M498.6 263.8L501.35 269.2L495.85 269.2Z" fill="#375623"/><path d="M503.4 254.1L506.15 259.5L500.65 259.5Z" fill="#375623"/><path d="M509.3 244.1L512.05 249.5L506.55 249.5Z" fill="#375623"/><path d="M514.1 233.2L516.85 238.6L511.35 238.6Z" fill="#375623"/><path d="M521 225.5L523.75 230.9L518.25 230.9Z" fill="#375623"/><path d="M537.8 221.9L540.55 227.3L535.05 227.3Z" fill="#375623"/><path d="M564 215.9L566.75 221.3L561.25 221.3Z" fill="#375623"/><path d="M595.3 208.2L598.05 213.6L592.55 213.6Z" fill="#375623"/><path d="M612.5 197.8L615.25 203.2L609.75 203.2Z" fill="#375623"/><rect x="609.8" y="270.8" width="6.2" height="6.2" fill="#00B0F0"/><path d="M612.9 288.4L615.75 291.25L612.9 294.1L610.05 291.25Z" fill="#FF0000"/><path d="M612.9 305.9L615.65 311.3L610.15 311.3Z" fill="#375623"/><text x="618" y="276.9" textLength="10.1" lengthAdjust="spacingAndGlyphs">25</text><circle cx="630" cy="271.05" r="1.05" fill="none" stroke="#000000" stroke-width="0.85"/><text x="631.55" y="276.9" textLength="6.2" lengthAdjust="spacingAndGlyphs">C</text><text x="618" y="294.25" textLength="10.1" lengthAdjust="spacingAndGlyphs">35</text><circle cx="630" cy="288.4" r="1.05" fill="none" stroke="#000000" stroke-width="0.85"/><text x="631.55" y="294.25" textLength="6.2" lengthAdjust="spacingAndGlyphs">C</text><text x="618" y="311.6" textLength="10.1" lengthAdjust="spacingAndGlyphs">45</text><circle cx="630" cy="305.75" r="1.05" fill="none" stroke="#000000" stroke-width="0.85"/><text x="631.55" y="311.6" textLength="6.2" lengthAdjust="spacingAndGlyphs">C</text></g><g id="chart-g"><g shape-rendering="crispEdges"><rect x="41" y="363" width="1" height="135" fill="#a5a5a5"/><rect x="40" y="498" width="164" height="1" fill="#9a9a9a"/><rect x="40" y="497" width="164" height="1" fill="#808080"/><rect x="40" y="363" width="1" height="135" fill="#7d7d7d"/><rect x="203" y="363" width="1" height="135" fill="#525252"/><rect x="40" y="363" width="164" height="1" fill="#404040"/></g><text x="31.15" y="500.8" text-anchor="end" textLength="5.12" lengthAdjust="spacingAndGlyphs">0</text><text x="31.15" y="483.99" text-anchor="end" textLength="10.24" lengthAdjust="spacingAndGlyphs">50</text><text x="31.15" y="467.17" text-anchor="end" textLength="15.36" lengthAdjust="spacingAndGlyphs">100</text><text x="31.15" y="450.36" text-anchor="end" textLength="15.36" lengthAdjust="spacingAndGlyphs">150</text><text x="31.15" y="433.55" text-anchor="end" textLength="15.36" lengthAdjust="spacingAndGlyphs">200</text><text x="31.15" y="416.74" text-anchor="end" textLength="15.36" lengthAdjust="spacingAndGlyphs">250</text><text x="31.15" y="399.92" text-anchor="end" textLength="15.36" lengthAdjust="spacingAndGlyphs">300</text><text x="31.15" y="383.11" text-anchor="end" textLength="15.36" lengthAdjust="spacingAndGlyphs">350</text><text x="31.15" y="366.3" text-anchor="end" textLength="15.36" lengthAdjust="spacingAndGlyphs">400</text><text x="41.05" y="514.3" text-anchor="middle" textLength="5.12" lengthAdjust="spacingAndGlyphs">0</text><text x="73.52" y="514.3" text-anchor="middle" textLength="12.79" lengthAdjust="spacingAndGlyphs">0.5</text><text x="105.99" y="514.3" text-anchor="middle" textLength="5.12" lengthAdjust="spacingAndGlyphs">1</text><text x="138.46" y="514.3" text-anchor="middle" textLength="12.79" lengthAdjust="spacingAndGlyphs">1.5</text><text x="170.93" y="514.3" text-anchor="middle" textLength="5.12" lengthAdjust="spacingAndGlyphs">2</text><text x="203.4" y="514.3" text-anchor="middle" textLength="12.79" lengthAdjust="spacingAndGlyphs">2.5</text><text x="122.22" y="529.5" text-anchor="middle" textLength="16.8" lengthAdjust="spacingAndGlyphs">mM</text><text transform="translate(11.25 430.6) rotate(-90)" x="0" y="0" text-anchor="middle" textLength="25" lengthAdjust="spacingAndGlyphs">µs/cm</text><g fill="none" stroke="#000000"><ellipse cx="122.7" cy="372.45" rx="1.8" ry="1.65" stroke-width="1.35"/><path d="M123.3 370.6H126.1" stroke-width="1.05"/><path d="M121.4 373.6Q120.7 375 122.2 375.3H123.8" stroke-width="1.2"/><ellipse cx="123.05" cy="376.85" rx="2.45" ry="1.45" stroke-width="1.2"/></g><rect x="50.8" y="477.1" width="6.2" height="6.2" fill="#00B0F0"/><rect x="61.2" y="468.3" width="6.2" height="6.2" fill="#00B0F0"/><rect x="73.8" y="457.8" width="6.2" height="6.2" fill="#00B0F0"/><rect x="85.5" y="448.7" width="6.2" height="6.2" fill="#00B0F0"/><rect x="93.6" y="442" width="6.2" height="6.2" fill="#00B0F0"/><rect x="104.2" y="433.7" width="6.2" height="6.2" fill="#00B0F0"/><rect x="112" y="424.8" width="6.2" height="6.2" fill="#00B0F0"/><rect x="115.5" y="423.9" width="6.2" height="6.2" fill="#00B0F0"/><rect x="119.1" y="422.4" width="6.2" height="6.2" fill="#00B0F0"/><rect x="129.6" y="418.9" width="6.2" height="6.2" fill="#00B0F0"/><rect x="143.4" y="413.3" width="6.2" height="6.2" fill="#00B0F0"/><rect x="162.7" y="407.9" width="6.2" height="6.2" fill="#00B0F0"/><rect x="175.1" y="401" width="6.2" height="6.2" fill="#00B0F0"/><rect x="187.5" y="397" width="6.2" height="6.2" fill="#00B0F0"/><path d="M53.9 474.25L56.75 477.1L53.9 479.95L51.05 477.1Z" fill="#FF0000"/><path d="M64.3 465.55L67.15 468.4L64.3 471.25L61.45 468.4Z" fill="#FF0000"/><path d="M76.9 453.85L79.75 456.7L76.9 459.55L74.05 456.7Z" fill="#FF0000"/><path d="M88.6 442.75L91.45 445.6L88.6 448.45L85.75 445.6Z" fill="#FF0000"/><path d="M96.7 435.25L99.55 438.1L96.7 440.95L93.85 438.1Z" fill="#FF0000"/><path d="M107.3 426.95L110.15 429.8L107.3 432.65L104.45 429.8Z" fill="#FF0000"/><path d="M115.1 418.95L117.95 421.8L115.1 424.65L112.25 421.8Z" fill="#FF0000"/><path d="M118.6 415.65L121.45 418.5L118.6 421.35L115.75 418.5Z" fill="#FF0000"/><path d="M122.2 414.35L125.05 417.2L122.2 420.05L119.35 417.2Z" fill="#FF0000"/><path d="M132.7 411.35L135.55 414.2L132.7 417.05L129.85 414.2Z" fill="#FF0000"/><path d="M146.5 404.85L149.35 407.7L146.5 410.55L143.65 407.7Z" fill="#FF0000"/><path d="M165.8 398.05L168.65 400.9L165.8 403.75L162.95 400.9Z" fill="#FF0000"/><path d="M178.2 389.35L181.05 392.2L178.2 395.05L175.35 392.2Z" fill="#FF0000"/><path d="M190.6 385.35L193.45 388.2L190.6 391.05L187.75 388.2Z" fill="#FF0000"/><path d="M53.9 471.9L56.65 477.3L51.15 477.3Z" fill="#375623"/><path d="M64.3 462.2L67.05 467.6L61.55 467.6Z" fill="#375623"/><path d="M76.9 450.1L79.65 455.5L74.15 455.5Z" fill="#375623"/><path d="M88.6 439.2L91.35 444.6L85.85 444.6Z" fill="#375623"/><path d="M96.7 430L99.45 435.4L93.95 435.4Z" fill="#375623"/><path d="M107.3 420.4L110.05 425.8L104.55 425.8Z" fill="#375623"/><path d="M115.1 414.2L117.85 419.6L112.35 419.6Z" fill="#375623"/><path d="M118.6 409.6L121.35 415L115.85 415Z" fill="#375623"/><path d="M122.2 405L124.95 410.4L119.45 410.4Z" fill="#375623"/><path d="M132.7 400L135.45 405.4L129.95 405.4Z" fill="#375623"/><path d="M146.5 392.2L149.25 397.6L143.75 397.6Z" fill="#375623"/><path d="M165.8 381.7L168.55 387.1L163.05 387.1Z" fill="#375623"/><path d="M178.2 374.4L180.95 379.8L175.45 379.8Z" fill="#375623"/><path d="M190.6 369.3L193.35 374.7L187.85 374.7Z" fill="#375623"/><rect x="172.05" y="451.3" width="6.2" height="6.2" fill="#00B0F0"/><path d="M175.15 469.05L178 471.9L175.15 474.75L172.3 471.9Z" fill="#FF0000"/><path d="M175.15 486.7L177.9 492.1L172.4 492.1Z" fill="#375623"/><text x="180.8" y="457.4" textLength="10.1" lengthAdjust="spacingAndGlyphs">25</text><circle cx="192.8" cy="451.55" r="1.05" fill="none" stroke="#000000" stroke-width="0.85"/><text x="194.35" y="457.4" textLength="6.2" lengthAdjust="spacingAndGlyphs">C</text><text x="180.8" y="474.9" textLength="10.1" lengthAdjust="spacingAndGlyphs">35</text><circle cx="192.8" cy="469.05" r="1.05" fill="none" stroke="#000000" stroke-width="0.85"/><text x="194.35" y="474.9" textLength="6.2" lengthAdjust="spacingAndGlyphs">C</text><text x="180.8" y="492.4" textLength="10.1" lengthAdjust="spacingAndGlyphs">45</text><circle cx="192.8" cy="486.55" r="1.05" fill="none" stroke="#000000" stroke-width="0.85"/><text x="194.35" y="492.4" textLength="6.2" lengthAdjust="spacingAndGlyphs">C</text></g><g id="chart-h"><g shape-rendering="crispEdges"><rect x="260" y="364" width="163" height="1" fill="#f0f0f0"/><rect x="261" y="363" width="1" height="137" fill="#eeeeee"/><rect x="260" y="498" width="163" height="1" fill="#eeeeee"/><rect x="422" y="363" width="1" height="137" fill="#8a8a8a"/><rect x="423" y="363" width="1" height="137" fill="#8a8a8a"/><rect x="260" y="499" width="163" height="1" fill="#555555"/><rect x="260" y="363" width="163" height="1" fill="#414141"/><rect x="260" y="363" width="1" height="137" fill="#3d3d3d"/></g><text x="250.85" y="502.4" text-anchor="end" textLength="5.12" lengthAdjust="spacingAndGlyphs">0</text><text x="250.85" y="485.52" text-anchor="end" textLength="10.24" lengthAdjust="spacingAndGlyphs">10</text><text x="250.85" y="468.65" text-anchor="end" textLength="10.24" lengthAdjust="spacingAndGlyphs">20</text><text x="250.85" y="451.77" text-anchor="end" textLength="10.24" lengthAdjust="spacingAndGlyphs">30</text><text x="250.85" y="434.9" text-anchor="end" textLength="10.24" lengthAdjust="spacingAndGlyphs">40</text><text x="250.85" y="418.02" text-anchor="end" textLength="10.24" lengthAdjust="spacingAndGlyphs">50</text><text x="250.85" y="401.15" text-anchor="end" textLength="10.24" lengthAdjust="spacingAndGlyphs">60</text><text x="250.85" y="384.27" text-anchor="end" textLength="10.24" lengthAdjust="spacingAndGlyphs">70</text><text x="250.85" y="367.4" text-anchor="end" textLength="10.24" lengthAdjust="spacingAndGlyphs">80</text><text x="260.75" y="515.5" text-anchor="middle" textLength="5.12" lengthAdjust="spacingAndGlyphs">0</text><text x="301.31" y="515.5" text-anchor="middle" textLength="12.79" lengthAdjust="spacingAndGlyphs">0.1</text><text x="341.88" y="515.5" text-anchor="middle" textLength="12.79" lengthAdjust="spacingAndGlyphs">0.2</text><text x="382.44" y="515.5" text-anchor="middle" textLength="12.79" lengthAdjust="spacingAndGlyphs">0.3</text><text x="423" y="515.5" text-anchor="middle" textLength="12.79" lengthAdjust="spacingAndGlyphs">0.4</text><g shape-rendering="crispEdges"><rect x="260" y="500" width="1" height="1" fill="#555555"/><rect x="260" y="501" width="1" height="1" fill="#9a9a9a"/><rect x="268" y="500" width="1" height="1" fill="#555555"/><rect x="268" y="501" width="1" height="1" fill="#9a9a9a"/><rect x="276" y="500" width="1" height="1" fill="#555555"/><rect x="276" y="501" width="1" height="1" fill="#9a9a9a"/><rect x="284" y="500" width="1" height="1" fill="#555555"/><rect x="284" y="501" width="1" height="1" fill="#9a9a9a"/><rect x="292" y="500" width="1" height="1" fill="#555555"/><rect x="292" y="501" width="1" height="1" fill="#9a9a9a"/><rect x="301" y="500" width="1" height="1" fill="#555555"/><rect x="301" y="501" width="1" height="1" fill="#9a9a9a"/><rect x="309" y="500" width="1" height="1" fill="#555555"/><rect x="309" y="501" width="1" height="1" fill="#9a9a9a"/><rect x="317" y="500" width="1" height="1" fill="#555555"/><rect x="317" y="501" width="1" height="1" fill="#9a9a9a"/><rect x="325" y="500" width="1" height="1" fill="#555555"/><rect x="325" y="501" width="1" height="1" fill="#9a9a9a"/><rect x="333" y="500" width="1" height="1" fill="#555555"/><rect x="333" y="501" width="1" height="1" fill="#9a9a9a"/><rect x="341" y="500" width="1" height="1" fill="#555555"/><rect x="341" y="501" width="1" height="1" fill="#9a9a9a"/><rect x="349" y="500" width="1" height="1" fill="#555555"/><rect x="349" y="501" width="1" height="1" fill="#9a9a9a"/><rect x="357" y="500" width="1" height="1" fill="#555555"/><rect x="357" y="501" width="1" height="1" fill="#9a9a9a"/><rect x="366" y="500" width="1" height="1" fill="#555555"/><rect x="366" y="501" width="1" height="1" fill="#9a9a9a"/><rect x="374" y="500" width="1" height="1" fill="#555555"/><rect x="374" y="501" width="1" height="1" fill="#9a9a9a"/><rect x="382" y="500" width="1" height="1" fill="#555555"/><rect x="382" y="501" width="1" height="1" fill="#9a9a9a"/><rect x="390" y="500" width="1" height="1" fill="#555555"/><rect x="390" y="501" width="1" height="1" fill="#9a9a9a"/><rect x="398" y="500" width="1" height="1" fill="#555555"/><rect x="398" y="501" width="1" height="1" fill="#9a9a9a"/><rect x="406" y="500" width="1" height="1" fill="#555555"/><rect x="406" y="501" width="1" height="1" fill="#9a9a9a"/><rect x="414" y="500" width="1" height="1" fill="#555555"/><rect x="414" y="501" width="1" height="1" fill="#9a9a9a"/><rect x="422" y="500" width="1" height="1" fill="#555555"/><rect x="422" y="501" width="1" height="1" fill="#9a9a9a"/></g><text x="341.88" y="530.7" text-anchor="middle" textLength="16.8" lengthAdjust="spacingAndGlyphs">mM</text><text transform="translate(236.05 431.45) rotate(-90)" x="0" y="0" text-anchor="middle" textLength="25" lengthAdjust="spacingAndGlyphs">µs/cm</text><text x="341.2" y="376.8" text-anchor="middle" style="font-size:12px">h</text><rect x="277.8" y="475.6" width="6.2" height="6.2" fill="#00B0F0"/><rect x="292.2" y="460.5" width="6.2" height="6.2" fill="#00B0F0"/><rect x="298" y="455.8" width="6.2" height="6.2" fill="#00B0F0"/><rect x="306.4" y="448.9" width="6.2" height="6.2" fill="#00B0F0"/><rect x="315.7" y="439.7" width="6.2" height="6.2" fill="#00B0F0"/><rect x="322.3" y="432" width="6.2" height="6.2" fill="#00B0F0"/><rect x="327.2" y="428.7" width="6.2" height="6.2" fill="#00B0F0"/><rect x="332.3" y="427.7" width="6.2" height="6.2" fill="#00B0F0"/><rect x="336.7" y="426.9" width="6.2" height="6.2" fill="#00B0F0"/><rect x="346.8" y="423.9" width="6.2" height="6.2" fill="#00B0F0"/><rect x="363.3" y="423.1" width="6.2" height="6.2" fill="#00B0F0"/><rect x="375.4" y="418.6" width="6.2" height="6.2" fill="#00B0F0"/><rect x="391.5" y="416.6" width="6.2" height="6.2" fill="#00B0F0"/><rect x="411.7" y="408" width="6.2" height="6.2" fill="#00B0F0"/><path d="M280.9 470.15L283.75 473L280.9 475.85L278.05 473Z" fill="#FF0000"/><path d="M295.3 457.35L298.15 460.2L295.3 463.05L292.45 460.2Z" fill="#FF0000"/><path d="M301.1 450.75L303.95 453.6L301.1 456.45L298.25 453.6Z" fill="#FF0000"/><path d="M309.5 441.45L312.35 444.3L309.5 447.15L306.65 444.3Z" fill="#FF0000"/><path d="M318.8 432.05L321.65 434.9L318.8 437.75L315.95 434.9Z" fill="#FF0000"/><path d="M325.4 425.45L328.25 428.3L325.4 431.15L322.55 428.3Z" fill="#FF0000"/><path d="M330.3 420.05L333.15 422.9L330.3 425.75L327.45 422.9Z" fill="#FF0000"/><path d="M335.4 415.85L338.25 418.7L335.4 421.55L332.55 418.7Z" fill="#FF0000"/><path d="M339.8 415.45L342.65 418.3L339.8 421.15L336.95 418.3Z" fill="#FF0000"/><path d="M349.9 414.35L352.75 417.2L349.9 420.05L347.05 417.2Z" fill="#FF0000"/><path d="M366.4 408.55L369.25 411.4L366.4 414.25L363.55 411.4Z" fill="#FF0000"/><path d="M378.5 406.55L381.35 409.4L378.5 412.25L375.65 409.4Z" fill="#FF0000"/><path d="M394.6 403.65L397.45 406.5L394.6 409.35L391.75 406.5Z" fill="#FF0000"/><path d="M414.8 392.85L417.65 395.7L414.8 398.55L411.95 395.7Z" fill="#FF0000"/><path d="M280.9 465.7L283.65 471.1L278.15 471.1Z" fill="#375623"/><path d="M295.3 451.4L298.05 456.8L292.55 456.8Z" fill="#375623"/><path d="M301.1 445.1L303.85 450.5L298.35 450.5Z" fill="#375623"/><path d="M309.5 435.6L312.25 441L306.75 441Z" fill="#375623"/><path d="M318.8 425.3L321.55 430.7L316.05 430.7Z" fill="#375623"/><path d="M325.4 418.8L328.15 424.2L322.65 424.2Z" fill="#375623"/><path d="M330.3 412.5L333.05 417.9L327.55 417.9Z" fill="#375623"/><path d="M335.4 406L338.15 411.4L332.65 411.4Z" fill="#375623"/><path d="M339.8 401.1L342.55 406.5L337.05 406.5Z" fill="#375623"/><path d="M349.9 399.3L352.65 404.7L347.15 404.7Z" fill="#375623"/><path d="M366.4 395.1L369.15 400.5L363.65 400.5Z" fill="#375623"/><path d="M378.5 393.4L381.25 398.8L375.75 398.8Z" fill="#375623"/><path d="M394.6 390.5L397.35 395.9L391.85 395.9Z" fill="#375623"/><path d="M414.8 378.4L417.55 383.8L412.05 383.8Z" fill="#375623"/><rect x="390.95" y="452.6" width="6.2" height="6.2" fill="#00B0F0"/><path d="M394.05 470.35L396.9 473.2L394.05 476.05L391.2 473.2Z" fill="#FF0000"/><path d="M394.05 488L396.8 493.4L391.3 493.4Z" fill="#375623"/><text x="399.1" y="458.7" textLength="10.1" lengthAdjust="spacingAndGlyphs">25</text><circle cx="411.1" cy="452.85" r="1.05" fill="none" stroke="#000000" stroke-width="0.85"/><text x="412.65" y="458.7" textLength="6.2" lengthAdjust="spacingAndGlyphs">C</text><text x="399.1" y="476.2" textLength="10.1" lengthAdjust="spacingAndGlyphs">35</text><circle cx="411.1" cy="470.35" r="1.05" fill="none" stroke="#000000" stroke-width="0.85"/><text x="412.65" y="476.2" textLength="6.2" lengthAdjust="spacingAndGlyphs">C</text><text x="399.1" y="493.7" textLength="10.1" lengthAdjust="spacingAndGlyphs">45</text><circle cx="411.1" cy="487.85" r="1.05" fill="none" stroke="#000000" stroke-width="0.85"/><text x="412.65" y="493.7" textLength="6.2" lengthAdjust="spacingAndGlyphs">C</text></g><g id="chart-i"><g shape-rendering="crispEdges"><rect x="476" y="500" width="169" height="1" fill="#eeeeee"/><rect x="645" y="363" width="1" height="137" fill="#dadada"/><rect x="477" y="363" width="1" height="137" fill="#9a9a9a"/><rect x="476" y="363" width="1" height="137" fill="#8a8a8a"/><rect x="644" y="363" width="1" height="137" fill="#6e6e6e"/><rect x="476" y="499" width="169" height="1" fill="#474747"/><rect x="476" y="363" width="169" height="1" fill="#3a3a3a"/></g><text x="467.2" y="502.8" text-anchor="end" textLength="5.12" lengthAdjust="spacingAndGlyphs">0</text><text x="467.2" y="475.52" text-anchor="end" textLength="5.12" lengthAdjust="spacingAndGlyphs">5</text><text x="467.2" y="448.24" text-anchor="end" textLength="10.24" lengthAdjust="spacingAndGlyphs">10</text><text x="467.2" y="420.96" text-anchor="end" textLength="10.24" lengthAdjust="spacingAndGlyphs">15</text><text x="467.2" y="393.68" text-anchor="end" textLength="10.24" lengthAdjust="spacingAndGlyphs">20</text><text x="467.2" y="366.4" text-anchor="end" textLength="10.24" lengthAdjust="spacingAndGlyphs">25</text><text x="477.1" y="515.65" text-anchor="middle" textLength="5.12" lengthAdjust="spacingAndGlyphs">0</text><text x="518.95" y="515.65" text-anchor="middle" textLength="17.91" lengthAdjust="spacingAndGlyphs">0.05</text><text x="560.8" y="515.65" text-anchor="middle" textLength="12.79" lengthAdjust="spacingAndGlyphs">0.1</text><text x="602.65" y="515.65" text-anchor="middle" textLength="17.91" lengthAdjust="spacingAndGlyphs">0.15</text><text x="644.5" y="515.65" text-anchor="middle" textLength="12.79" lengthAdjust="spacingAndGlyphs">0.2</text><text x="560.8" y="531.1" text-anchor="middle" textLength="16.8" lengthAdjust="spacingAndGlyphs">mM</text><text transform="translate(452.4 431.52) rotate(-90)" x="0" y="0" text-anchor="middle" textLength="25" lengthAdjust="spacingAndGlyphs">µs/cm</text><text x="561.5" y="376.6" text-anchor="middle" style="font-size:12px">i</text><rect x="479.4" y="485.1" width="6.2" height="6.2" fill="#00B0F0"/><rect x="481.4" y="483.1" width="6.2" height="6.2" fill="#00B0F0"/><rect x="485.4" y="477.9" width="6.2" height="6.2" fill="#00B0F0"/><rect x="489.2" y="472.8" width="6.2" height="6.2" fill="#00B0F0"/><rect x="494.9" y="464.2" width="6.2" height="6.2" fill="#00B0F0"/><rect x="500.7" y="457" width="6.2" height="6.2" fill="#00B0F0"/><rect x="506.5" y="447.1" width="6.2" height="6.2" fill="#00B0F0"/><rect x="511.7" y="446" width="6.2" height="6.2" fill="#00B0F0"/><rect x="518" y="445.7" width="6.2" height="6.2" fill="#00B0F0"/><rect x="533.7" y="441" width="6.2" height="6.2" fill="#00B0F0"/><rect x="554.3" y="435.9" width="6.2" height="6.2" fill="#00B0F0"/><rect x="565.5" y="434.2" width="6.2" height="6.2" fill="#00B0F0"/><rect x="576.8" y="431" width="6.2" height="6.2" fill="#00B0F0"/><rect x="597.9" y="425.8" width="6.2" height="6.2" fill="#00B0F0"/><path d="M482.5 478.55L485.35 481.4L482.5 484.25L479.65 481.4Z" fill="#FF0000"/><path d="M484.5 476.35L487.35 479.2L484.5 482.05L481.65 479.2Z" fill="#FF0000"/><path d="M488.5 469.45L491.35 472.3L488.5 475.15L485.65 472.3Z" fill="#FF0000"/><path d="M492.3 464.05L495.15 466.9L492.3 469.75L489.45 466.9Z" fill="#FF0000"/><path d="M498 456.45L500.85 459.3L498 462.15L495.15 459.3Z" fill="#FF0000"/><path d="M503.8 447.15L506.65 450L503.8 452.85L500.95 450Z" fill="#FF0000"/><path d="M509.6 436.65L512.45 439.5L509.6 442.35L506.75 439.5Z" fill="#FF0000"/><path d="M514.8 428.85L517.65 431.7L514.8 434.55L511.95 431.7Z" fill="#FF0000"/><path d="M521.1 428.05L523.95 430.9L521.1 433.75L518.25 430.9Z" fill="#FF0000"/><path d="M536.8 424.75L539.65 427.6L536.8 430.45L533.95 427.6Z" fill="#FF0000"/><path d="M557.4 417.55L560.25 420.4L557.4 423.25L554.55 420.4Z" fill="#FF0000"/><path d="M568.6 414.95L571.45 417.8L568.6 420.65L565.75 417.8Z" fill="#FF0000"/><path d="M579.9 411.25L582.75 414.1L579.9 416.95L577.05 414.1Z" fill="#FF0000"/><path d="M601 405.45L603.85 408.3L601 411.15L598.15 408.3Z" fill="#FF0000"/><path d="M482.5 470.2L485.25 475.6L479.75 475.6Z" fill="#375623"/><path d="M484.5 467.2L487.25 472.6L481.75 472.6Z" fill="#375623"/><path d="M488.5 461.8L491.25 467.2L485.75 467.2Z" fill="#375623"/><path d="M492.3 456.5L495.05 461.9L489.55 461.9Z" fill="#375623"/><path d="M498 448.2L500.75 453.6L495.25 453.6Z" fill="#375623"/><path d="M503.8 437L506.55 442.4L501.05 442.4Z" fill="#375623"/><path d="M509.6 429L512.35 434.4L506.85 434.4Z" fill="#375623"/><path d="M514.8 421.7L517.55 427.1L512.05 427.1Z" fill="#375623"/><path d="M521.1 411.3L523.85 416.7L518.35 416.7Z" fill="#375623"/><path d="M536.8 409.9L539.55 415.3L534.05 415.3Z" fill="#375623"/><path d="M557.4 402.3L560.15 407.7L554.65 407.7Z" fill="#375623"/><path d="M568.6 399.2L571.35 404.6L565.85 404.6Z" fill="#375623"/><path d="M579.9 396.5L582.65 401.9L577.15 401.9Z" fill="#375623"/><path d="M601 389.5L603.75 394.9L598.25 394.9Z" fill="#375623"/><rect x="610.65" y="452.35" width="6.2" height="6.2" fill="#00B0F0"/><path d="M613.75 470.15L616.6 473L613.75 475.85L610.9 473Z" fill="#FF0000"/><path d="M613.75 487.85L616.5 493.25L611 493.25Z" fill="#375623"/><text x="619" y="458.45" textLength="10.1" lengthAdjust="spacingAndGlyphs">25</text><circle cx="631" cy="452.6" r="1.05" fill="none" stroke="#000000" stroke-width="0.85"/><text x="632.55" y="458.45" textLength="6.2" lengthAdjust="spacingAndGlyphs">C</text><text x="619" y="476" textLength="10.1" lengthAdjust="spacingAndGlyphs">35</text><circle cx="631" cy="470.15" r="1.05" fill="none" stroke="#000000" stroke-width="0.85"/><text x="632.55" y="476" textLength="6.2" lengthAdjust="spacingAndGlyphs">C</text><text x="619" y="493.55" textLength="10.1" lengthAdjust="spacingAndGlyphs">45</text><circle cx="631" cy="487.7" r="1.05" fill="none" stroke="#000000" stroke-width="0.85"/><text x="632.55" y="493.55" textLength="6.2" lengthAdjust="spacingAndGlyphs">C</text></g>
</svg>
</body></html>
